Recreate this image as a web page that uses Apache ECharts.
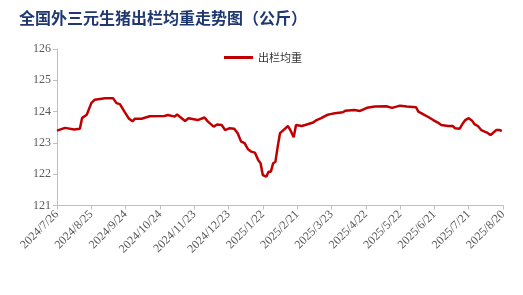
<!DOCTYPE html>
<html>
<head>
<meta charset="utf-8">
<script src="https://cdn.jsdelivr.net/npm/echarts@6/dist/echarts.min.js"></script>
<style>html,body{margin:0;padding:0;background:#fff;}#c{width:523px;height:295px;}</style>
</head>
<body>
<div id="c"></div>
<script>
// Tick labels (every 30 days from 2024/7/26)
var tickLabels = ['2024/7/26','2024/8/25','2024/9/24','2024/10/24','2024/11/23','2024/12/23','2025/1/22','2025/2/21','2025/3/23','2025/4/22','2025/5/22','2025/6/21','2025/7/21','2025/8/20'];
// Days since 2024/7/26
var days = [0,7,15,20,22,26,30,33,42,49,52,55,59,63,66,68,74,81,94,97,103,105,109,112,115,123,129,132,137,140,144,147,151,155,158,161,164,167,170,173,176,178,180,183,185,187,189,191,193,195,198,199,202,204,205,207,209,214,217,218,224,227,231,236,239,243,250,252,260,265,271,278,288,293,300,306,314,316,320,325,329,333,336,342,346,348,352,355,357,360,363,365,368,371,376,379,381,384,387,389];
// Average slaughter weight (kg)
var values = [123.39,123.48,123.43,123.45,123.80,123.90,124.27,124.38,124.43,124.43,124.27,124.24,124.00,123.77,123.69,123.77,123.77,123.85,123.86,123.89,123.84,123.91,123.79,123.70,123.79,123.73,123.81,123.68,123.52,123.59,123.57,123.41,123.47,123.45,123.31,123.04,122.99,122.80,122.72,122.69,122.45,122.35,121.97,121.92,122.08,122.08,122.35,122.40,122.88,123.31,123.41,123.47,123.54,123.41,123.36,123.18,123.57,123.54,123.57,123.63,123.65,123.73,123.79,123.89,123.92,123.95,123.98,124.03,124.05,124.02,124.12,124.16,124.17,124.12,124.19,124.16,124.14,124.00,123.92,123.82,123.73,123.65,123.57,123.54,123.54,123.47,123.45,123.63,123.73,123.79,123.71,123.60,123.54,123.41,123.33,123.25,123.31,123.41,123.41,123.38];
var seriesName = '出栏均重';
var titleText = '全国外三元生猪出栏均重走势图（公斤）';

var serif = 'Liberation Serif';
var data = days.map(function(d,i){return [d, values[i]];});
var chart = echarts.init(document.getElementById('c'));
chart.setOption({
  animation:false,
  backgroundColor:'#fff',
  textStyle:{fontFamily:serif},
  title:{text:titleText,left:14,top:5,textStyle:{fontFamily:'Noto Sans CJK SC',fontWeight:'bold',fontSize:16,color:'#1f3870'}},
  legend:{top:47,left:219,icon:'rect',itemWidth:29,itemHeight:3,itemGap:6,
    textStyle:{fontFamily:'Noto Sans CJK SC',fontSize:11,color:'#333'},data:[seriesName]},
  grid:{left:57,right:20,top:49,bottom:89.5,containLabel:false},
  xAxis:{type:'value',min:0,max:390,interval:30,
    axisLine:{lineStyle:{color:'#bfbfbf'}},
    axisTick:{show:true,length:4,lineStyle:{color:'#bfbfbf'}},
    splitLine:{show:false},
    axisLabel:{rotate:45,margin:7,fontFamily:serif,fontSize:12,color:'#595959',
      formatter:function(v){return tickLabels[Math.round(v/30)]||'';}}},
  yAxis:{type:'value',min:121,max:126,interval:1,
    axisLine:{show:true,lineStyle:{color:'#bfbfbf'}},
    axisTick:{show:true,length:4,lineStyle:{color:'#bfbfbf'}},
    splitLine:{show:false},
    axisLabel:{margin:6,fontFamily:serif,fontSize:12,color:'#595959'}},
  series:[{name:seriesName,type:'line',data:data,showSymbol:false,symbol:'none',
    lineStyle:{color:'#c00000',width:2.5},itemStyle:{color:'#c00000'}}]
});
</script>
</body>
</html>
